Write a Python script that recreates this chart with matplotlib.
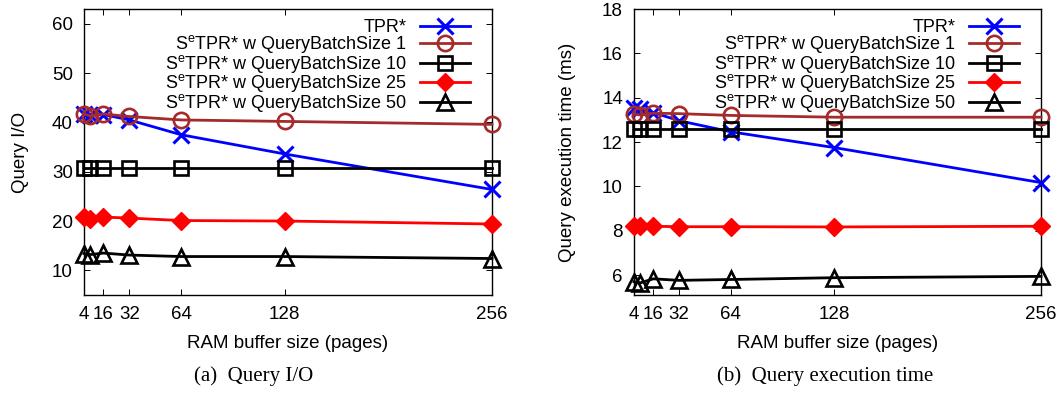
import numpy as np
import matplotlib
matplotlib.use('Agg')
import matplotlib.pyplot as plt

plt.rcParams['font.family'] = ['Liberation Sans', 'DejaVu Sans']
plt.rcParams['mathtext.fontset'] = 'custom'
plt.rcParams['mathtext.rm'] = 'Liberation Sans'

# RAM buffer sizes (pages)
buffer_sizes = [4, 8, 16, 32, 64, 128, 256]
tick_pos = [4, 16, 32, 64, 128, 256]

# (a) Query I/O
io_tpr = [41.7, 41.6, 41.6, 40.5, 37.5, 33.6, 26.4]
io_b1 = [41.7, 41.3, 41.7, 41.2, 40.5, 40.2, 39.6]
io_b10 = [30.7, 30.7, 30.7, 30.7, 30.7, 30.7, 30.7]
io_b25 = [20.9, 20.5, 20.8, 20.6, 20.1, 20.0, 19.4]
io_b50 = [13.4, 13.2, 13.5, 13.1, 12.8, 12.8, 12.4]

# (b) Query execution time (ms)
t_tpr = [13.55, 13.48, 13.33, 12.96, 12.46, 11.75, 10.17]
t_b1 = [13.25, 13.22, 13.3, 13.28, 13.2, 13.12, 13.12]
t_b10 = [12.58, 12.58, 12.58, 12.58, 12.58, 12.58, 12.58]
t_b25 = [8.22, 8.2, 8.2, 8.18, 8.18, 8.17, 8.2]
t_b50 = [5.7, 5.65, 5.83, 5.76, 5.8, 5.88, 5.94]

labels = ['TPR*',
          r'S$^{\mathrm{e}}$TPR* w QueryBatchSize 1',
          r'S$^{\mathrm{e}}$TPR* w QueryBatchSize 10',
          r'S$^{\mathrm{e}}$TPR* w QueryBatchSize 25',
          r'S$^{\mathrm{e}}$TPR* w QueryBatchSize 50']
styles = [
    dict(color='#0000ff', marker='x', ms=11.5, mew=2.2, mfc='none'),
    dict(color='#a52a2a', marker='o', ms=11, mew=1.9, mfc='none'),
    dict(color='#000000', marker='s', ms=9.5, mew=1.9, mfc='none'),
    dict(color='#ff0000', marker='D', ms=9.5, mew=1.0, mfc='#ff0000'),
    dict(color='#000000', marker='^', ms=11, mew=1.9, mfc='none'),
]

W, H = 1064, 397
fig = plt.figure(figsize=(W / 100, H / 100), dpi=100)
top, bot = 9, 295
ax1 = fig.add_axes([84 / W, 1 - bot / H, (492 - 84) / W, (bot - top) / H])
ax2 = fig.add_axes([634 / W, 1 - bot / H, (1041 - 634) / W, (bot - top) / H])

FS = 13.5


def draw(ax, series, ylim, yticks, ylabel, ylab_x):
    for vals, lab, st in zip(series, labels, styles):
        ax.plot(buffer_sizes, vals, label=lab, lw=2.0, clip_on=False, zorder=3, **st)
    ax.set_xlim(4, 256)
    ax.set_ylim(*ylim)
    ax.set_yticks(yticks)
    ax.set_xticks(tick_pos)
    for s in ax.spines.values():
        s.set_linewidth(1.0)
    ax.tick_params(direction='in', length=4, width=0.7, top=True, right=True,
                   labelsize=FS, pad=8)
    ax.set_ylabel(ylabel, fontsize=FS, va='center')
    ax.yaxis.set_label_coords(ylab_x, 0.5)
    ax.set_xlabel('RAM buffer size (pages)', fontsize=FS, va='center')
    ax.xaxis.set_label_coords(0.5, -48 / (bot - top))
    w = ax.get_position().width * W
    ax.legend(loc='upper right', frameon=False, markerfirst=False, fontsize=13,
              handlelength=2.75, labelspacing=-0.14, borderpad=0, borderaxespad=0,
              handletextpad=0.75, bbox_to_anchor=(1 - 22 / w, 1 - 10 / (bot - top)))


draw(ax1, [io_tpr, io_b1, io_b10, io_b25, io_b50], (5, 63), [10, 20, 30, 40, 50, 60],
     'Query I/O', -64 / 408)
draw(ax2, [t_tpr, t_b1, t_b10, t_b25, t_b50], (5.1, 18), [6, 8, 10, 12, 14, 16, 18],
     'Query execution time (ms)', -67 / 407)

fig.text(254 / W, 1 - 376 / H, '(a)  Query I/O', ha='center', va='center',
         fontsize=15, family=['Liberation Serif', 'DejaVu Serif'])
fig.text(825 / W, 1 - 376 / H, '(b)  Query execution time', ha='center', va='center',
         fontsize=15, family=['Liberation Serif', 'DejaVu Serif'])

fig.savefig('out.png', dpi=100)
